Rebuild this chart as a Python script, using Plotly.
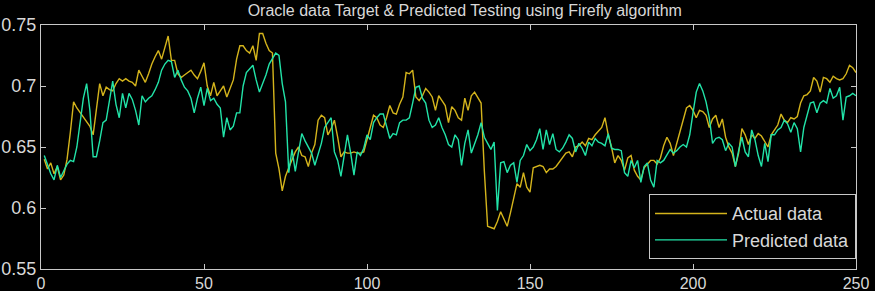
import plotly.graph_objects as go

title_text = "Oracle data Target & Predicted Testing using Firefly algorithm"
series_names = ["Actual data", "Predicted data"]

x_values = list(range(1, 251))

actual = [
    0.640, 0.632, 0.637, 0.628, 0.634, 0.623, 0.627, 0.640, 0.662, 0.687,
    0.682, 0.678, 0.675, 0.670, 0.667, 0.660, 0.682, 0.702, 0.692, 0.699,
    0.697, 0.696, 0.702, 0.706, 0.704, 0.706, 0.704, 0.703, 0.700, 0.713,
    0.708, 0.703, 0.710, 0.718, 0.724, 0.729, 0.722, 0.732, 0.741, 0.721,
    0.721, 0.710, 0.707, 0.709, 0.711, 0.713, 0.709, 0.706, 0.712, 0.719,
    0.700, 0.692, 0.703, 0.692, 0.696, 0.700, 0.691, 0.698, 0.705, 0.722,
    0.733, 0.733, 0.729, 0.727, 0.733, 0.721, 0.743, 0.743, 0.735, 0.729,
    0.727, 0.645, 0.632, 0.614, 0.626, 0.633, 0.640, 0.646, 0.650, 0.643,
    0.642, 0.634, 0.645, 0.652, 0.672, 0.676, 0.674, 0.660, 0.665, 0.672,
    0.658, 0.642, 0.646, 0.645, 0.645, 0.646, 0.645, 0.645, 0.646, 0.656,
    0.664, 0.676, 0.674, 0.668, 0.666, 0.674, 0.684, 0.678, 0.677, 0.685,
    0.691, 0.711, 0.710, 0.713, 0.691, 0.688, 0.692, 0.698, 0.695, 0.691,
    0.680, 0.692, 0.688, 0.684, 0.670, 0.683, 0.680, 0.674, 0.672, 0.690,
    0.680, 0.692, 0.695, 0.690, 0.686, 0.630, 0.585, 0.584, 0.583, 0.589,
    0.597, 0.591, 0.585, 0.596, 0.607, 0.620, 0.617, 0.629, 0.617, 0.613,
    0.633, 0.634, 0.635, 0.634, 0.629, 0.632, 0.632, 0.634, 0.638, 0.642,
    0.645, 0.646, 0.642, 0.650, 0.651, 0.654, 0.651, 0.657, 0.656, 0.660,
    0.663, 0.666, 0.674, 0.660, 0.650, 0.637, 0.643, 0.639, 0.631, 0.641,
    0.643, 0.631, 0.626, 0.623, 0.633, 0.636, 0.639, 0.639, 0.636, 0.641,
    0.651, 0.658, 0.653, 0.643, 0.653, 0.664, 0.672, 0.682, 0.684, 0.680,
    0.674, 0.680, 0.679, 0.676, 0.666, 0.673, 0.676, 0.666, 0.673, 0.658,
    0.650, 0.645, 0.634, 0.645, 0.665, 0.660, 0.652, 0.660, 0.657, 0.661,
    0.659, 0.655, 0.650, 0.660, 0.664, 0.668, 0.677, 0.672, 0.670, 0.674,
    0.673, 0.675, 0.686, 0.692, 0.693, 0.696, 0.707, 0.704, 0.695, 0.707,
    0.706, 0.703, 0.708, 0.706, 0.705, 0.706, 0.710, 0.717, 0.715, 0.711,
]

predicted = [
    0.643, 0.636, 0.628, 0.623, 0.635, 0.625, 0.630, 0.636, 0.639, 0.638,
    0.650, 0.672, 0.690, 0.702, 0.680, 0.642, 0.642, 0.655, 0.670, 0.672,
    0.690, 0.704, 0.685, 0.674, 0.694, 0.682, 0.694, 0.689, 0.680, 0.668,
    0.692, 0.687, 0.690, 0.692, 0.697, 0.703, 0.713, 0.718, 0.721, 0.720,
    0.707, 0.713, 0.705, 0.699, 0.696, 0.690, 0.678, 0.690, 0.699, 0.684,
    0.698, 0.688, 0.690, 0.685, 0.682, 0.658, 0.674, 0.664, 0.667, 0.678,
    0.678, 0.700, 0.711, 0.714, 0.717, 0.705, 0.695, 0.702, 0.709, 0.718,
    0.722, 0.727, 0.725, 0.702, 0.687, 0.629, 0.648, 0.630, 0.646, 0.661,
    0.655, 0.650, 0.645, 0.635, 0.645, 0.653, 0.666, 0.670, 0.674, 0.646,
    0.639, 0.626, 0.645, 0.660, 0.645, 0.627, 0.646, 0.643, 0.649, 0.660,
    0.656, 0.670, 0.674, 0.677, 0.677, 0.668, 0.657, 0.661, 0.660, 0.670,
    0.672, 0.672, 0.674, 0.686, 0.699, 0.700, 0.690, 0.686, 0.672, 0.666,
    0.668, 0.674, 0.666, 0.660, 0.652, 0.650, 0.660, 0.656, 0.635, 0.653,
    0.664, 0.645, 0.652, 0.660, 0.670, 0.658, 0.653, 0.648, 0.654, 0.598,
    0.637, 0.638, 0.629, 0.635, 0.637, 0.621, 0.639, 0.643, 0.652, 0.647,
    0.650, 0.656, 0.665, 0.648, 0.664, 0.652, 0.661, 0.648, 0.646, 0.649,
    0.654, 0.660, 0.657, 0.646, 0.653, 0.649, 0.643, 0.654, 0.651, 0.657,
    0.654, 0.653, 0.651, 0.661, 0.649, 0.648, 0.648, 0.647, 0.629, 0.626,
    0.639, 0.633, 0.639, 0.621, 0.634, 0.637, 0.623, 0.617, 0.639, 0.637,
    0.639, 0.643, 0.648, 0.645, 0.647, 0.650, 0.652, 0.650, 0.660, 0.678,
    0.695, 0.702, 0.696, 0.687, 0.674, 0.653, 0.657, 0.658, 0.656, 0.647,
    0.653, 0.650, 0.634, 0.647, 0.658, 0.646, 0.642, 0.664, 0.656, 0.643,
    0.634, 0.653, 0.638, 0.660, 0.660, 0.664, 0.666, 0.672, 0.669, 0.662,
    0.670, 0.665, 0.646, 0.666, 0.677, 0.686, 0.687, 0.678, 0.686, 0.688,
    0.686, 0.698, 0.690, 0.692, 0.699, 0.672, 0.691, 0.692, 0.694, 0.692,
]

x_ticks = [0, 50, 100, 150, 200, 250]
x_tick_labels = ["0", "50", "100", "150", "200", "250"]
y_ticks = [0.55, 0.6, 0.65, 0.7, 0.75]
y_tick_labels = ["0.55", "0.6", "0.65", "0.7", "0.75"]

AXIS_COLOR = "#c8c8c8"
TEXT_COLOR = "#d8d8d8"
FONT = "Liberation Sans, Arial, sans-serif"

fig = go.Figure()
fig.add_trace(go.Scatter(x=x_values, y=actual, mode="lines", name=series_names[0],
                         line=dict(color="#d4b41c", width=1.4)))
fig.add_trace(go.Scatter(x=x_values, y=predicted, mode="lines", name=series_names[1],
                         line=dict(color="#22e3a8", width=1.4)))

axis_common = dict(showgrid=False, zeroline=False, showline=True, linecolor=AXIS_COLOR,
                   linewidth=1, mirror="allticks", ticks="inside", ticklen=5,
                   tickcolor=AXIS_COLOR, automargin=False)

fig.update_layout(
    width=875, height=291,
    paper_bgcolor="black", plot_bgcolor="black",
    margin=dict(l=41, r=19, t=25, b=22),
    title=dict(text=title_text, x=0.52, xref="paper", xanchor="center",
               y=1 - 10 / 291, yref="container", yanchor="middle",
               font=dict(family=FONT, size=16, color=TEXT_COLOR)),
    xaxis=dict(range=[0, 250], tickvals=x_ticks, ticktext=x_tick_labels,
               tickfont=dict(family=FONT, size=16, color=TEXT_COLOR), **axis_common),
    yaxis=dict(range=[0.55, 0.75], tickvals=y_ticks, ticktext=y_tick_labels,
               tickfont=dict(family=FONT, size=18, color=TEXT_COLOR), **axis_common),
    legend=dict(x=1, y=0.04, xanchor="right", yanchor="bottom",
                bgcolor="black", bordercolor=AXIS_COLOR, borderwidth=1,
                font=dict(family=FONT, size=18, color=TEXT_COLOR),
                itemwidth=72, tracegroupgap=0),
    showlegend=True,
)

fig.write_html("out.html")
